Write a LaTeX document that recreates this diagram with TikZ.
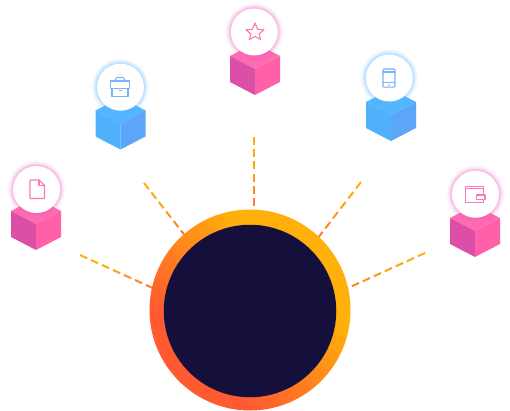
\documentclass[tikz,border=0pt]{standalone}
\usetikzlibrary{calc}
\definecolor{pinkL}{HTML}{DB4FA6}
\definecolor{pinkR}{HTML}{FF60A8}
\definecolor{pinkT}{HTML}{FF6BB2}
\definecolor{pinkG}{HTML}{EE5FBE}
\definecolor{blueL}{HTML}{4FB0FB}
\definecolor{blueR}{HTML}{5CA5F8}
\definecolor{blueT}{HTML}{52B6FF}
\definecolor{blueG}{HTML}{5CB8FF}
\definecolor{iconP}{HTML}{FF78B8}
\definecolor{iconB}{HTML}{78B4FA}
\definecolor{hubdark}{HTML}{150F3B}
\definecolor{FFB}{HTML}{FFB00A}
\definecolor{FFA}{HTML}{FF5A30}
\definecolor{dashEnd}{HTML}{FF7A2E}
\pgfdeclareverticalshading{hubshade}{100bp}{color(0bp)=(FFA); color(33bp)=(FFA); color(64bp)=(FFB); color(100bp)=(FFB)}
\tikzset{
  badge/.style={circle,fill=white,inner sep=0pt,minimum size=47pt},
  hubring/.style={circle,inner sep=0pt,minimum size=201pt,shading=hubshade,shading angle=-45},
  hubcore/.style={circle,inner sep=0pt,minimum size=172.5pt,fill=hubdark},
  dashpiece/.style={line width=2pt},
  iconline/.style={line width=1.1pt,line join=round,line cap=round},
}
% cube: centre x, bottom y, left, right, top colours
\newcommand{\cubeat}[5]{%
  \fill[#5] (#1-25,#2-39) -- (#1,#2-52) -- (#1+25,#2-39) -- (#1,#2-26) -- cycle;
  \fill[#3] (#1-25,#2-39) -- (#1,#2-26) -- (#1,#2) -- (#1-25,#2-13) -- cycle;
  \fill[#4] (#1+25,#2-39) -- (#1,#2-26) -- (#1,#2) -- (#1+25,#2-13) -- cycle;
}
% glow rings around a badge centre
\newcommand{\glowat}[3]{%
  \foreach \r/\o in {29/.03,28/.05,27/.08,26/.11,25/.15,24/.18}{
    \fill[#3,opacity=\o] (#1,#2) circle[radius=\r];
  }
}
% dashed spoke from named point to named point, yellow at the far end and orange at the hub
\newcommand{\spokeline}[3]{% from, to, number of dashes
  \foreach \i in {1,...,#3}{
    \pgfmathsetmacro{\ta}{(\i-1)/#3}
    \pgfmathsetmacro{\tb}{(\i-1+0.65)/#3}
    \pgfmathtruncatemacro{\mixv}{100-100*((\i-1)/(#3-1))^1.5}
    \colorlet{dashcol}{FFB!\mixv!dashEnd}
    \draw[dashpiece,dashcol] ($(#1)!\ta!(#2)$) -- ($(#1)!\tb!(#2)$);
  }
}
\begin{document}
\begin{tikzpicture}[x=1pt,y=-1pt]
\useasboundingbox (0,0) rectangle (510,411);
\fill[white] (0,0) rectangle (510,411);

% free ends of the spokes
\coordinate (s1) at (80,255);
\coordinate (h1) at (157,290);
\coordinate (s2) at (144,183);
\coordinate (h2) at (188.4,240);
\coordinate (s3) at (254,137);
\coordinate (h3) at (254,210.2);
\coordinate (s4) at (361,182);
\coordinate (h4) at (314.8,242);
\coordinate (s5) at (425,253);
\coordinate (h5) at (337,293);
\spokeline{s1}{h1}{7}
\spokeline{s2}{h2}{6}
\spokeline{s3}{h3}{6}
\spokeline{s4}{h4}{6}
\spokeline{s5}{h5}{8}

% hub
\node[hubring] (hub) at (250,310) {};
\node[hubcore] (core) at (250,311) {};

% cubes, glows and badges
\cubeat{36}{250}{pinkL}{pinkR}{pinkT}
\glowat{36.5}{189.5}{pinkG}
\node[badge] (b1) at (36.5,189.5) {};

\cubeat{120.5}{149.5}{blueL}{blueR}{blueT}
\glowat{120.5}{87.2}{blueG}
\node[badge] (b2) at (120.5,87.2) {};

\cubeat{255}{95}{pinkL}{pinkR}{pinkT}
\glowat{254.3}{32}{pinkG}
\node[badge] (b3) at (254.3,32) {};

\cubeat{391}{141}{blueL}{blueR}{blueT}
\glowat{389.3}{78}{blueG}
\node[badge] (b4) at (389.3,78) {};

\cubeat{475}{257}{pinkL}{pinkR}{pinkT}
\glowat{475.5}{194.3}{pinkG}
\node[badge] (b5) at (475.5,194.3) {};

% document icon
\draw[iconline,iconP] (30,180) -- (39,180) -- (44.5,185.5) -- (44.5,198.5) -- (30,198.5) -- cycle;
\draw[iconline,iconP] (39,180) -- (39,185.5) -- (44.5,185.5);

% briefcase icon
\draw[iconline,iconB] (110.5,81) rectangle (129.5,88.5);
\draw[iconline,iconB] (112,88.5) -- (112,96.8) -- (128,96.8) -- (128,88.5);
\draw[iconline,iconB] (115.5,81) -- (115.5,79.5) .. controls (115.5,78) and (116.5,77.5) .. (118,77.5) -- (122,77.5) .. controls (123.5,77.5) and (124.5,78) .. (124.5,79.5) -- (124.5,81);
\draw[line width=.9pt,iconB] (118.5,90.5) -- (121.5,90.5);

% star icon
\draw[iconline,iconP] (255,23) -- (257.6,29.3) -- (264,29.8) -- (259.1,34) -- (260.7,39.6) -- (255,36.4) -- (249.3,39.6) -- (250.9,34) -- (246,29.8) -- (252.4,29.3) -- cycle;

% phone icon
\draw[iconline,iconB,rounded corners=1pt] (383,69) rectangle (395,87.2);
\draw[iconline,iconB] (383,72) -- (395,72);
\draw[iconline,iconB] (383,82.7) -- (395,82.7);
\fill[iconB] (389,85) circle[radius=.8];

% wallet icon
\draw[iconline,iconP] (483.3,195) -- (483.3,186.5) -- (465.5,186.5) -- (465.5,202.3) -- (483.3,202.3) -- (483.3,199.3);
\draw[iconline,iconP] (465.5,188.8) -- (483.3,188.8);
\draw[iconline,iconP] (485,195) -- (476.5,195) -- (476.5,199.3) -- (485,199.3) -- cycle;
\end{tikzpicture}
\end{document}
